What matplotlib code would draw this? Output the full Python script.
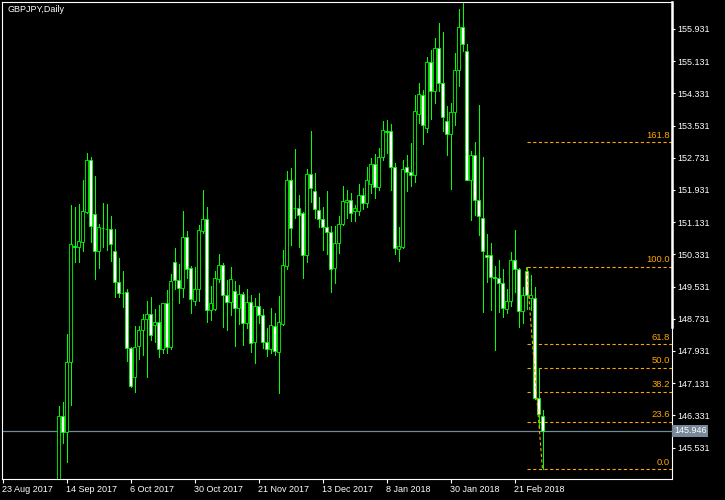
import matplotlib.pyplot as plt
from matplotlib.transforms import blended_transform_factory

plt.rcParams['font.family'] = ['Liberation Sans', 'DejaVu Sans']

symbol_title = 'GBPJPY,Daily'

# bar index 0 = 23 Aug 2017; bars before index 14 lie below the visible range
first_bar = 14
opens = [144.60, 146.32, 145.91, 147.65, 150.55, 150.52, 150.65, 151.39, 152.67, 151.33,
         150.42, 150.99, 150.97, 150.95, 150.41, 149.64, 149.38, 149.39, 148.01, 147.28,
         148.05, 148.45, 148.72, 148.85, 148.58, 148.64, 147.97, 149.12, 148.04, 150.13,
         149.69, 149.50, 150.76, 149.99, 149.16, 149.46, 150.90, 151.20, 148.94, 148.98,
         149.73, 150.06, 149.31, 149.14, 149.41, 148.99, 149.34, 148.62, 149.14, 148.16,
         149.04, 148.82, 148.16, 147.97, 148.54, 147.91, 148.60, 150.05, 152.18, 151.49,
         151.48, 151.35, 150.31, 152.32, 151.90, 151.43, 151.20, 151.00, 150.88, 149.99,
         150.61, 151.08, 151.64, 151.68, 151.42, 151.42, 151.80, 151.60, 152.09, 152.57,
         152.01, 152.74, 153.39, 153.39, 152.50, 150.47, 150.52, 152.50, 152.37, 152.29,
         153.83, 154.28, 153.46, 155.10, 154.38, 155.45, 154.58, 153.65, 153.31, 153.86,
         154.90, 155.97, 155.38, 152.19, 152.79, 151.68, 151.23, 150.31, 150.31, 149.76,
         149.74, 149.61, 148.97, 149.17, 150.18, 149.96, 148.92, 149.91, 149.24, 149.24,
         146.76, 146.32]
highs = [146.56, 146.66, 148.35, 151.55, 151.50, 151.58, 152.18, 152.84, 152.74, 152.28,
         151.09, 151.60, 151.58, 151.29, 150.96, 150.24, 149.92, 149.47, 148.04, 148.55,
         148.55, 148.85, 149.17, 149.27, 148.97, 149.07, 149.13, 149.44, 149.84, 150.48,
         150.09, 151.40, 150.91, 150.04, 150.01, 151.05, 151.93, 151.50, 149.54, 149.92,
         150.34, 150.11, 149.70, 150.01, 149.66, 149.56, 149.40, 149.47, 149.32, 149.24,
         149.36, 148.97, 148.49, 148.99, 148.87, 149.30, 150.44, 152.40, 152.48, 152.95,
         151.80, 151.39, 152.45, 153.40, 152.35, 151.76, 151.51, 151.91, 151.04, 151.04,
         151.29, 152.02, 151.93, 151.86, 151.56, 152.08, 151.98, 152.51, 152.73, 152.83,
         152.97, 153.65, 153.67, 153.56, 152.59, 151.00, 152.68, 152.80, 153.09, 154.29,
         154.58, 154.42, 155.23, 155.41, 155.71, 156.08, 155.86, 154.02, 154.09, 155.33,
         156.43, 156.58, 155.56, 152.90, 153.12, 154.04, 152.74, 150.84, 150.61, 150.05,
         150.18, 149.97, 149.46, 150.38, 150.94, 150.00, 149.51, 150.01, 149.81, 149.51,
         147.50, 146.47]
lows = [144.45, 145.65, 145.17, 146.59, 150.13, 150.13, 150.42, 151.37, 150.65, 149.73,
        149.98, 150.52, 150.45, 150.17, 149.28, 149.28, 149.03, 147.67, 147.04, 146.92,
        147.74, 147.84, 147.29, 148.20, 148.16, 147.77, 147.89, 147.89, 147.99, 149.46,
        149.13, 149.28, 149.75, 148.88, 149.08, 149.18, 150.86, 148.66, 148.70, 148.94,
        149.65, 148.53, 148.44, 148.83, 148.06, 148.61, 148.09, 148.51, 147.91, 147.63,
        148.62, 148.01, 147.81, 147.89, 147.83, 146.89, 148.58, 149.97, 150.56, 151.23,
        150.52, 149.75, 150.13, 151.62, 151.23, 151.02, 150.44, 150.34, 149.40, 149.61,
        150.36, 151.05, 151.24, 151.17, 151.17, 151.31, 151.45, 151.50, 151.86, 151.73,
        151.94, 152.68, 152.86, 151.94, 150.34, 150.17, 150.50, 151.91, 152.04, 152.14,
        153.59, 153.08, 153.38, 153.70, 154.10, 154.40, 153.40, 152.80, 151.96, 153.55,
        154.51, 155.38, 152.18, 151.19, 151.31, 150.80, 148.91, 149.65, 148.96, 147.96,
        148.91, 148.78, 148.88, 149.06, 149.40, 148.53, 148.63, 148.97, 148.95, 146.73,
        146.01, 144.99]
closes = [146.32, 145.91, 147.65, 150.60, 150.52, 150.66, 151.41, 152.67, 151.04, 150.42,
          151.00, 150.98, 150.96, 150.58, 149.64, 149.36, 149.36, 148.00, 147.07, 148.04,
          148.45, 148.72, 148.85, 148.32, 148.65, 147.97, 149.12, 148.04, 149.66, 149.69,
          149.50, 150.76, 149.96, 149.22, 149.46, 150.93, 151.20, 148.94, 149.12, 149.74,
          150.06, 149.31, 149.14, 149.71, 148.99, 149.34, 148.62, 149.14, 148.12, 149.04,
          148.82, 148.16, 147.97, 148.57, 147.94, 148.64, 150.06, 152.18, 150.98, 151.47,
          151.30, 150.31, 152.32, 151.97, 151.45, 151.20, 151.00, 150.88, 149.96, 150.61,
          151.08, 151.65, 151.68, 151.35, 151.48, 151.80, 151.60, 152.17, 152.57, 152.01,
          152.74, 153.41, 153.37, 152.50, 150.48, 150.53, 152.45, 152.37, 152.29, 153.89,
          154.31, 153.54, 155.10, 154.38, 155.45, 154.58, 153.75, 153.31, 153.86, 154.90,
          155.97, 155.55, 152.19, 152.79, 151.68, 151.28, 150.41, 150.27, 149.76, 149.74,
          149.61, 148.99, 149.17, 150.18, 149.96, 148.92, 149.32, 149.32, 149.32, 146.76,
          146.36, 145.95]

date_ticks = [0, 16, 32, 48, 64, 80, 96, 112, 128]
date_labels = ['23 Aug 2017', '14 Sep 2017', '6 Oct 2017', '30 Oct 2017', '21 Nov 2017',
               '13 Dec 2017', '8 Jan 2018', '30 Jan 2018', '21 Feb 2018']
price_ticks = [155.931, 155.131, 154.331, 153.531, 152.731, 151.931, 151.131,
               150.331, 149.531, 148.731, 147.931, 147.131, 146.331, 145.531]

fib_levels = [0.0, 23.6, 38.2, 50.0, 61.8, 100.0, 161.8]
fib_low, fib_high = 144.99, 150.01
fib_start, fib_end = 131, 135
last_price = 145.946

green = '#00FF00'
orange = '#FFA500'
slate = '#778899'

fig = plt.figure(figsize=(7.25, 5), dpi=100, facecolor='black')
ax = fig.add_axes([2 / 725, 21 / 500, 670 / 725, 477 / 500])
ax.set_facecolor('black')
ax.set_xlim(-0.125, 167.375)
ax.set_ylim(144.75, 156.60)

x = list(range(first_bar, first_bar + len(opens)))
bottoms = [min(o, c) for o, c in zip(opens, closes)]
heights = [abs(c - o) for o, c in zip(opens, closes)]
fills = ['white' if c < o else 'black' for o, c in zip(opens, closes)]

ax.vlines(x, lows, highs, color=green, lw=0.5, zorder=2, antialiased=False)
ax.bar(x, heights, bottom=bottoms, width=0.58, color=fills, edgecolor=green,
       linewidth=0.6, zorder=3)

# last price line
ax.axhline(last_price, color=slate, lw=0.9, zorder=1)

# fibonacci retracement
dash = (0, (2.9, 2.2))
ax.plot([fib_start, fib_end], [fib_high, fib_low], color=orange, lw=0.8,
        linestyle=dash, zorder=4)
for lvl in fib_levels:
    p = fib_low + lvl / 100 * (fib_high - fib_low)
    ax.plot([fib_start, 167.375], [p, p], color=orange, lw=0.8, linestyle=dash, zorder=1)
    ax.text(166.9, p + 0.07, f'{lvl:.1f}', color=orange, fontsize=6.8,
            ha='right', va='bottom')

# axes styling
for side in ['left', 'top', 'bottom', 'right']:
    ax.spines[side].set_color('white')
    ax.spines[side].set_linewidth(0.8)

ax.yaxis.tick_right()
ax.set_yticks(price_ticks)
ax.set_yticklabels([f'{p:.3f}' for p in price_ticks])
ax.tick_params(axis='y', colors='white', labelsize=6.5, length=2.5, width=0.8, pad=1.5)

ax.set_xticks(date_ticks)
ax.set_xticklabels(date_labels)
ax.tick_params(axis='x', colors='white', labelsize=6.5, length=3, width=0.8, pad=1.5)
for lab in ax.get_xticklabels():
    lab.set_ha('left')

trans = blended_transform_factory(ax.transAxes, ax.transData)
ax.plot([1, 1], [148.53, 156.60], transform=trans, color='white', lw=1.8,
        clip_on=False, zorder=5)
ax.text(1.003, last_price, f'{last_price:.3f}', transform=trans, color='white',
        fontsize=6.5, ha='left', va='center',
        bbox=dict(facecolor=slate, edgecolor='none', pad=1.2))

fig.text(7 / 725, 1 - 10 / 500, symbol_title, color='white', fontsize=6.5,
         ha='left', va='center')

fig.savefig('out.png', dpi=100, facecolor='black')
